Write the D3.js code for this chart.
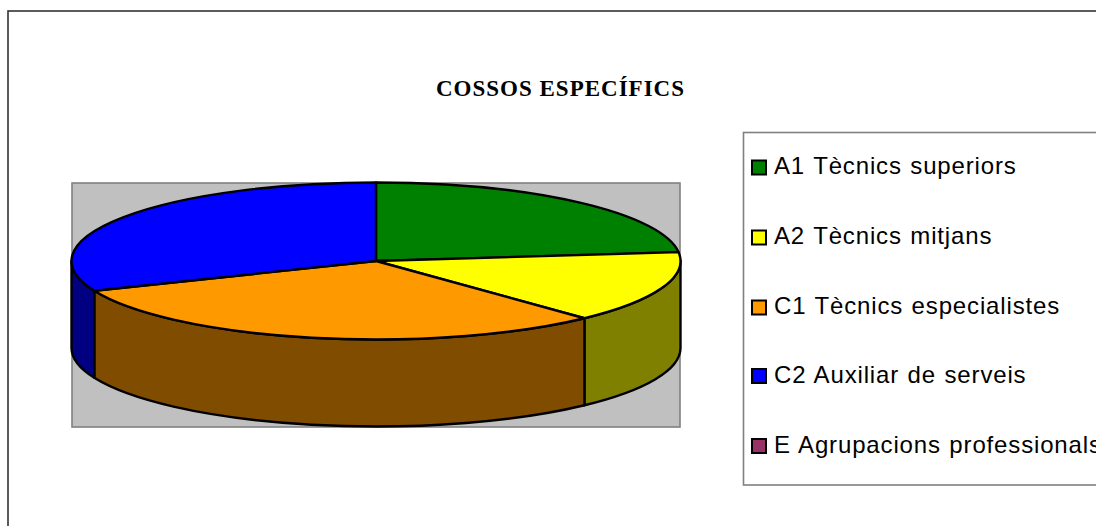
<!DOCTYPE html>
<html><head><meta charset="utf-8">
<script src="https://cdn.jsdelivr.net/npm/d3@7"></script>
<style>html,body{margin:0;padding:0;background:#fff;overflow:hidden}svg{display:block}</style>
</head><body><svg id="c" width="1096" height="526"></svg>
<script>
const categories = ["A1 Tècnics superiors","A2 Tècnics mitjans","C1 Tècnics especialistes","C2 Auxiliar de serveis","E Agrupacions professionals"];
const shares = [23.2,14.8,30.8,31.2,0];
const topColors = ["#008000","#ffff00","#ff9900","#0000ff","#993366"];
const wallColors = ["#004000","#808000","#804c00","#000080","#4c1933"];
const title = "COSSOS ESPECÍFICS";

const cx=376, cy=261, rx=304.5, ry=78.5, depth=87;
const svg=d3.select("#c");
svg.append("rect").attr("x",8).attr("y",11).attr("width",1200).attr("height",700)
  .attr("fill","#fff").attr("stroke","#333").attr("stroke-width",1.6);
svg.append("text").attr("x",436).attr("y",96)
  .attr("font-family","Liberation Serif").attr("font-weight","bold").attr("font-size",23).attr("fill","#000")
  .attr("textLength",248).attr("lengthAdjust","spacing").text(title);
svg.append("rect").attr("x",72).attr("y",183).attr("width",608).attr("height",244)
  .attr("fill","#c0c0c0").attr("stroke","#808080").attr("stroke-width",1.6);

const pie=d3.pie().sort(null).value(d=>d)(shares);
const px=a=>cx+rx*Math.sin(a), py=(a,dy=0)=>cy+dy-ry*Math.cos(a);
const ell=(a0,a1,dy,sweep)=>`A${rx},${ry} 0 ${a1-a0>Math.PI?1:0} ${sweep} ${sweep?px(a1):px(a0)},${sweep?py(a1,dy):py(a0,dy)}`;
const pg=svg.append("g");
// side walls: only the front half of the cylinder is visible
pie.forEach((s,i)=>{
  const a0=Math.max(s.startAngle,Math.PI/2), a1=Math.min(s.endAngle,Math.PI*1.5);
  if(a1<=a0) return;
  pg.append("path").attr("fill",wallColors[i]).attr("stroke","#000").attr("stroke-width",2.4).attr("stroke-linejoin","round")
    .attr("d",`M${px(a0)},${py(a0)}`+ell(a0,a1,0,1)+`L${px(a1)},${py(a1,depth)}`+ell(a0,a1,depth,0)+"Z");
});
// top faces
pie.forEach((s,i)=>{
  if(s.endAngle-s.startAngle<=0) return;
  pg.append("path").attr("fill",topColors[i]).attr("stroke","#000").attr("stroke-width",2.4).attr("stroke-linejoin","round")
    .attr("d",`M${cx},${cy}L${px(s.startAngle)},${py(s.startAngle)}`+ell(s.startAngle,s.endAngle,0,1)+"Z");
});

// legend
svg.append("rect").attr("x",743.5).attr("y",132.5).attr("width",500).attr("height",352.5)
  .attr("fill","#fff").attr("stroke","#808080").attr("stroke-width",1.6);
const legendY=[167.5,237.5,307.5,376,446];
const leg=svg.append("g").selectAll("g").data(categories).join("g")
  .attr("transform",(d,i)=>`translate(0,${legendY[i]})`);
leg.append("rect").attr("x",752).attr("y",-7).attr("width",14).attr("height",14)
  .attr("fill",(d,i)=>topColors[i]).attr("stroke","#000").attr("stroke-width",2);
leg.append("text").attr("x",774).attr("y",6.5).attr("font-family","Liberation Sans").attr("font-size",24).attr("letter-spacing",0.85).attr("word-spacing",1).attr("fill","#000").text(d=>d);
</script></body></html>
